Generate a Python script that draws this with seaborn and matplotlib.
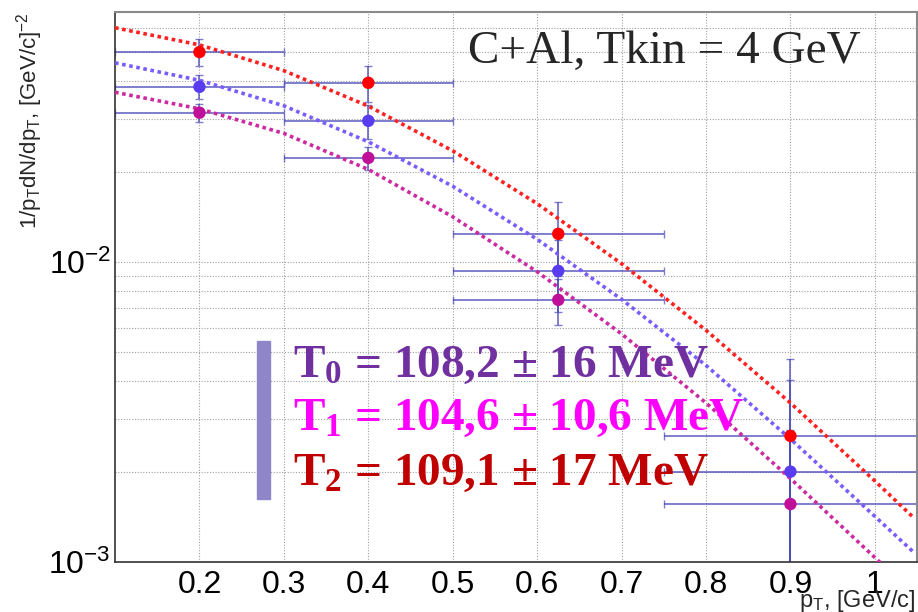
import pandas as pd
import seaborn as sns
import matplotlib.pyplot as plt
from matplotlib.ticker import MultipleLocator, LogLocator, NullFormatter, FixedLocator, FixedFormatter
from matplotlib.patches import Rectangle

# measured points: bin centres and half widths in pT
pt = [0.2, 0.4, 0.625, 0.9]
pt_err = [0.1, 0.1, 0.125, 0.15]

# three spectra (T0 - violet, T1 - magenta, T2 - red)
t0_y = [0.0383, 0.0295, 0.00933, 0.00200]
t0_err = [0.0035, 0.0039, 0.0025, 0.00205]
t1_y = [0.0314, 0.0222, 0.00747, 0.00156]
t1_err = [0.0021, 0.0020, 0.0013, 0.0012]
t2_y = [0.0500, 0.0395, 0.0124, 0.00263]
t2_err = [0.0052, 0.0055, 0.0034, 0.0021]

# fit curves
fit_pt = [0.1, 0.2, 0.3, 0.4, 0.5, 0.6, 0.7, 0.8, 0.9, 1.0, 1.045]
fit_t0 = [0.04603, 0.04027, 0.03311, 0.02512, 0.01786, 0.01189, 0.007499, 0.004519, 0.00257, 0.001419, 0.001084]
fit_t1 = [0.03673, 0.03236, 0.02679, 0.02032, 0.01413, 0.009268, 0.005754, 0.003388, 0.001897, 0.001035, 0.000785]
fit_t2 = [0.06026, 0.05284, 0.04335, 0.03304, 0.02344, 0.01563, 0.009863, 0.005916, 0.003388, 0.001862, 0.001413]

x_ticks = [0.2, 0.3, 0.4, 0.5, 0.6, 0.7, 0.8, 0.9, 1.0]
x_labels = ["0.2", "0.3", "0.4", "0.5", "0.6", "0.7", "0.8", "0.9", "1"]

series = [
    ("T0", t0_y, t0_err, fit_t0, "#5a3cf0", "#7a5cff"),
    ("T1", t1_y, t1_err, fit_t1, "#c0109a", "#cc2aa0"),
    ("T2", t2_y, t2_err, fit_t2, "#ff0000", "#ff2020"),
]

sns.set_theme(style="white")
plt.rcParams["font.family"] = ["Liberation Sans", "DejaVu Sans"]
plt.rcParams["mathtext.fontset"] = "custom"
plt.rcParams["mathtext.rm"] = "Liberation Sans"
plt.rcParams["mathtext.it"] = "Liberation Sans:italic"
plt.rcParams["mathtext.bf"] = "Liberation Serif:bold"

fig = plt.figure(figsize=(9.18, 6.12), dpi=100)
ax = fig.add_axes([0.1253, 0.0817, 0.8737, 0.8987])

for name, y, err, fit, mcol, lcol in series:
    ax.errorbar(pt, y, xerr=pt_err, yerr=err, fmt="none", ecolor="#4848b8",
                elinewidth=1.4, capsize=3, capthick=1, alpha=0.7, zorder=2)
    fit_df = pd.DataFrame({"pt": fit_pt, "y": fit})
    sns.lineplot(data=fit_df, x="pt", y="y", ax=ax, color=lcol, lw=2.6,
                 linestyle=(0, (1, 1)), sort=False, zorder=3)
    pts_df = pd.DataFrame({"pt": pt, "y": y})
    sns.scatterplot(data=pts_df, x="pt", y="y", ax=ax, color=mcol, s=80,
                    edgecolor="none", zorder=4)

ax.set_yscale("log")
ax.set_xlim(0.1, 1.05)
ax.set_ylim(1e-3, 0.068)

ax.xaxis.set_major_locator(FixedLocator(x_ticks))
ax.xaxis.set_major_formatter(FixedFormatter(x_labels))
ax.xaxis.set_minor_locator(MultipleLocator(0.02))
ax.yaxis.set_major_locator(LogLocator(base=10))
ax.yaxis.set_minor_locator(LogLocator(base=10, subs=range(2, 10)))
ax.yaxis.set_minor_formatter(NullFormatter())

ax.tick_params(axis="both", which="both", direction="in", colors="#444444",
               labelcolor="black", width=1, labelsize=23)
ax.tick_params(axis="x", which="major", length=13.5, pad=6)
ax.tick_params(axis="x", which="minor", length=6.5)
ax.tick_params(axis="y", which="major", length=27, pad=3)
ax.tick_params(axis="y", which="minor", length=13.5)

ax.grid(axis="x", which="major", color="#a0a0a0", lw=0.8, linestyle=(0, (1, 1.5)))
ax.grid(axis="y", which="both", color="#a0a0a0", lw=0.8, linestyle=(0, (1, 1.5)))
ax.set_axisbelow(True)

for side in ["left", "bottom"]:
    ax.spines[side].set_color("#333333")
    ax.spines[side].set_linewidth(1.2)
for side in ["top", "right"]:
    ax.spines[side].set_color("#8a8a8a")
    ax.spines[side].set_linewidth(1.5)

ax.set_ylabel(r"1/p$_\mathrm{T}$dN/dp$_\mathrm{T}$, [GeV/c]$^{-2}$", fontsize=16, loc="top")
ax.yaxis.set_label_coords(-0.087, 1.0)
ax.set_xlabel(r"p$_\mathrm{T}$, [GeV/c]", fontsize=17, loc="right")
ax.xaxis.set_label_coords(0.9975, -0.047)

ax.text(0.440, 0.907, "C+Al, Tkin = 4 GeV", transform=ax.transAxes,
        fontsize=34, family="Liberation Serif", va="baseline")

ax.add_patch(Rectangle((0.177, 0.1145), 0.0162, 0.287, transform=ax.transAxes,
                       color="#8e86c8", zorder=5))
labels = [
    (r"$\mathbf{T_0}$ = 108,2 ± 16 MeV", "#7030a0", 0.3364),
    (r"$\mathbf{T_1}$ = 104,6 ± 10,6 MeV", "#ff00ff", 0.240),
    (r"$\mathbf{T_2}$ = 109,1 ± 17 MeV", "#c00000", 0.140),
]
for txt, col, yy in labels:
    ax.text(0.222, yy, txt, transform=ax.transAxes, fontsize=34, color=col,
            family="Liberation Serif", weight="bold", va="baseline", zorder=6)

fig.savefig("out.png", dpi=100)
